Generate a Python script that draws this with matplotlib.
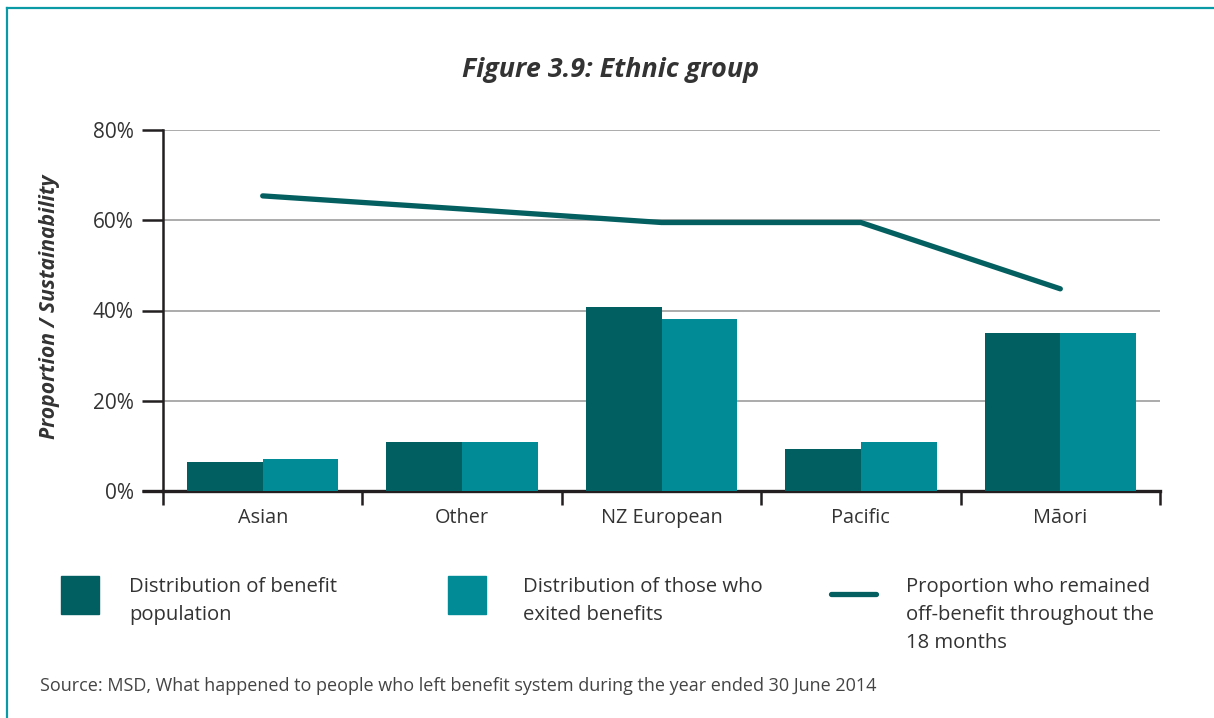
import numpy as np
import matplotlib
matplotlib.use("Agg")
import matplotlib.pyplot as plt
from matplotlib.lines import Line2D
from matplotlib.patches import Rectangle

categories = ["Asian", "Other", "NZ European", "Pacific", "Māori"]
benefit_population = [6.4, 10.9, 40.8, 9.3, 35.0]
exited_benefits = [7.1, 10.9, 38.1, 10.9, 35.0]
remained_off = [65.4, 62.5, 59.5, 59.5, 44.8]
y_ticks = [0, 20, 40, 60, 80]
y_tick_labels = ["0%", "20%", "40%", "60%", "80%"]
legend_labels = [
    ["Distribution of benefit", "population"],
    ["Distribution of those who", "exited benefits"],
    ["Proportion who remained", "off-benefit throughout the", "18 months"],
]

DARK = "#015f61"
LIGHT = "#008b96"
LINE = "#035f60"
TEXT = "#333333"

plt.rcParams["font.family"] = ["Open Sans", "DejaVu Sans"]

W, H = 1214, 718
fig = plt.figure(figsize=(W / 100, H / 100), dpi=100)


def fx(px):
    return px / W


def fy(py):
    return 1 - py / H


# frame lines (left + top) like the report box
fig.add_artist(Line2D([fx(7), fx(7)], [0, fy(8)], color="#0a9aa6", lw=1.6))
fig.add_artist(Line2D([fx(7), 1], [fy(8), fy(8)], color="#0a9aa6", lw=1.6))

ax = fig.add_axes([fx(163), fy(491), (1160 - 163) / W, (491 - 130) / H])

x = np.arange(len(categories))
bw = 0.38
ax.bar(x - bw / 2, benefit_population, bw, color=DARK, zorder=3)
ax.bar(x + bw / 2, exited_benefits, bw, color=LIGHT, zorder=3)
ax.plot(x, remained_off, color=LINE, lw=3.8, solid_capstyle="round", zorder=4)

ax.set_xlim(-0.5, len(categories) - 0.5)
ax.set_ylim(0, 80)

for s in ["top", "right"]:
    ax.spines[s].set_visible(False)
ax.spines["left"].set_linewidth(1.8)
ax.spines["left"].set_color("#231f20")
ax.spines["bottom"].set_linewidth(2.4)
ax.spines["bottom"].set_color("#231f20")

ax.set_yticks(y_ticks)
ax.set_yticklabels(y_tick_labels, fontsize=15, color=TEXT)
ax.tick_params(axis="y", length=15, width=1.8, color="#231f20", pad=6)
for yv in y_ticks[1:]:
    ax.axhline(yv, color="#ababab", lw=1.4, zorder=1)

# boundary ticks and centred labels
ax.set_xticks(np.arange(len(categories) + 1) - 0.5)
ax.set_xticklabels([])
ax.tick_params(axis="x", which="major", length=10, width=1.8, color="#231f20")
ax.set_xticks(x, minor=True)
ax.set_xticklabels(categories, minor=True, fontsize=14.3, color=TEXT)
ax.tick_params(axis="x", which="minor", length=0, pad=12)

# extend the x axis line left to the 0% tick
ax.plot([-0.5 - 21 / 199.4, -0.5], [0, 0], color="#231f20", lw=2.4,
        clip_on=False, solid_capstyle="butt", zorder=5)

fig.text(fx(611), fy(70), "Figure 3.9: Ethnic group", ha="center", va="center",
         fontsize=19.4, fontweight="bold", fontstyle="italic", color=TEXT)
fig.text(fx(50), fy(307), "Proportion / Sustainability", rotation=90,
         ha="center", va="center", fontsize=15.2, fontweight="bold",
         fontstyle="italic", color=TEXT)

# legend drawn by hand
fig.add_artist(Rectangle((fx(61), fy(614)), 38 / W, 38 / H, color=DARK))
fig.add_artist(Rectangle((fx(448), fy(614)), 38 / W, 38 / H, color=LIGHT))
fig.add_artist(Line2D([fx(831), fx(876)], [fy(594), fy(594)], color=LINE,
                      lw=3.8, solid_capstyle="round"))
for x0, lines in zip([129, 523, 906], legend_labels):
    for i, line in enumerate(lines):
        fig.text(fx(x0), fy(587 + 28 * i), line, ha="left", va="center",
                 fontsize=14.6, color=TEXT)

fig.text(fx(40), fy(686),
         "Source: MSD, What happened to people who left benefit system during the year ended 30 June 2014",
         ha="left", va="center", fontsize=13, color="#444444")

fig.savefig("out.png", dpi=100)
